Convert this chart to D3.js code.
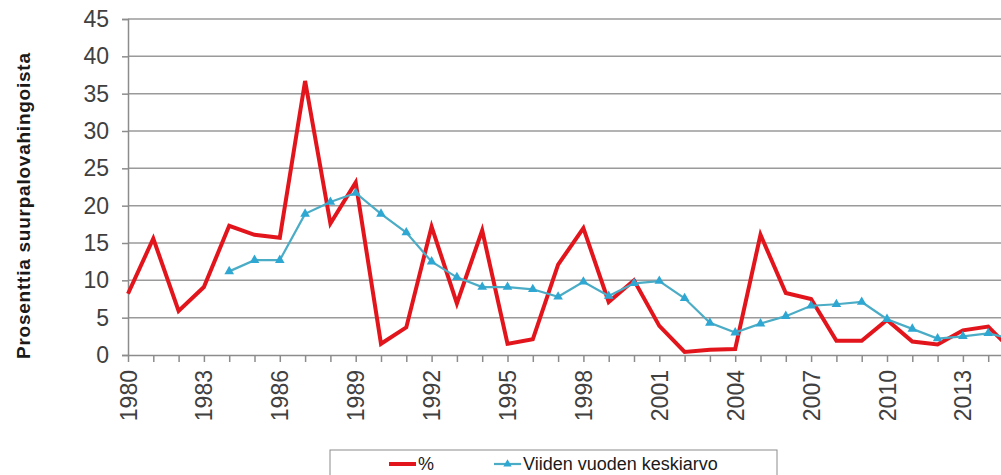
<!DOCTYPE html>
<html>
<head>
<meta charset="utf-8">
<script src="https://cdnjs.cloudflare.com/ajax/libs/d3/7.8.5/d3.min.js"></script>
<style>
  body { margin: 0; background: #fff; }
  svg { display: block; font-family: "Liberation Sans", Arial, sans-serif; }
</style>
</head>
<body>
<script>
// vuodet
var years = d3.range(1980, 2016);
// suurpalovahinkojen osuus, %
var percent = [8.2, 15.6, 5.9, 9.1, 17.3, 16.1, 15.7, 36.7, 17.6, 23.1,
               1.5, 3.7, 17.2, 6.9, 16.7, 1.5, 2.1, 12.1, 17.0, 7.1,
               10.0, 3.9, 0.4, 0.7, 0.8, 16.1, 8.3, 7.5, 1.9, 1.9,
               4.7, 1.8, 1.4, 3.3, 3.8, 0.4];
// viiden vuoden keskiarvo (alkaa 1984)
var avg = [null, null, null, null, 11.2, 12.7, 12.7, 18.9, 20.5, 21.7,
           18.9, 16.4, 12.5, 10.4, 9.1, 9.1, 8.8, 7.8, 9.8, 7.9,
           9.6, 9.9, 7.6, 4.3, 3.0, 4.2, 5.2, 6.6, 6.8, 7.1,
           4.8, 3.5, 2.2, 2.5, 2.9, 2.1];
var yTicks = [0, 5, 10, 15, 20, 25, 30, 35, 40, 45];
var xLabels = d3.range(1980, 2016, 3);
var seriesNames = ["%", "Viiden vuoden keskiarvo"];

var W = 1001, H = 475;
var svg = d3.select("body").append("svg").attr("width", W).attr("height", H);

var x = d3.scaleLinear().domain([1980, 2015]).range([128, 128 + 35 * 25.3]);
var y = d3.scaleLinear().domain([0, 45]).range([355, 19]);

// gridlines
svg.append("g").selectAll("line").data(yTicks.slice(1)).enter().append("line")
    .attr("x1", 128).attr("x2", W)
    .attr("y1", function(d) { return y(d); }).attr("y2", function(d) { return y(d); })
    .attr("stroke", "#9a9a9a").attr("stroke-width", 1.5);

// y axis
var yAxis = svg.append("g").attr("transform", "translate(128,0)")
    .call(d3.axisLeft(y).tickValues(yTicks).tickSize(6).tickPadding(13));
yAxis.select(".domain").attr("stroke", "#8c8c8c").attr("stroke-width", 1.5);
yAxis.selectAll(".tick line").attr("stroke", "#8c8c8c").attr("stroke-width", 1.5);
yAxis.selectAll("text").attr("font-size", 23).attr("fill", "#404040")
    .attr("font-family", "Liberation Sans, Arial, sans-serif");

// x axis
var xAxis = svg.append("g").attr("transform", "translate(0,355)")
    .call(d3.axisBottom(x).tickValues(years).tickSize(7).tickSizeOuter(0)
        .tickFormat(function(d) { return xLabels.indexOf(d) >= 0 ? d : ""; }));
xAxis.select(".domain").attr("stroke", "#8c8c8c").attr("stroke-width", 1.5);
xAxis.selectAll(".tick line").attr("stroke", "#8c8c8c").attr("stroke-width", 1.5);
xAxis.selectAll("text").attr("font-size", 23).attr("fill", "#404040")
    .attr("font-family", "Liberation Sans, Arial, sans-serif")
    .attr("transform", "rotate(-90)")
    .attr("text-anchor", "end").attr("dy", "0.35em")
    .attr("x", -15).attr("y", 0);

// y axis title
svg.append("text")
    .attr("transform", "translate(30,206) rotate(-90)")
    .attr("text-anchor", "middle")
    .attr("font-size", 19).attr("font-weight", "bold").attr("fill", "#1a1a1a")
    .attr("textLength", 306).attr("lengthAdjust", "spacing")
    .text("Prosenttia  suurpalovahingoista");

var redLine = d3.line()
    .x(function(d, i) { return x(years[i]); })
    .y(function(d) { return y(d); });

svg.append("path").datum(percent)
    .attr("d", redLine)
    .attr("fill", "none").attr("stroke", "#e3151c").attr("stroke-width", 4)
    .attr("stroke-linejoin", "miter");

var avgPts = years.map(function(yr, i) { return [yr, avg[i]]; })
    .filter(function(p) { return p[1] != null; });

svg.append("path").datum(avgPts)
    .attr("d", d3.line().x(function(p) { return x(p[0]); }).y(function(p) { return y(p[1]); }))
    .attr("fill", "none").attr("stroke", "#4bacc6").attr("stroke-width", 2.2);

var tri = d3.symbol().type(d3.symbolTriangle).size(40);
svg.append("g").selectAll("path").data(avgPts).enter().append("path")
    .attr("d", tri)
    .attr("transform", function(p) { return "translate(" + x(p[0]) + "," + y(p[1]) + ")"; })
    .attr("fill", "#2ea7d3");

// legend
var lg = svg.append("g");
lg.append("rect").attr("x", 330).attr("y", 450).attr("width", 447).attr("height", 40)
    .attr("fill", "#fff").attr("stroke", "#8c8c8c").attr("stroke-width", 1);
lg.append("line").attr("x1", 389).attr("x2", 416).attr("y1", 464).attr("y2", 464)
    .attr("stroke", "#e3151c").attr("stroke-width", 4);
lg.append("text").attr("x", 418).attr("y", 470).attr("font-size", 18).attr("fill", "#1a1a1a")
    .text(seriesNames[0]);
lg.append("line").attr("x1", 494).attr("x2", 521).attr("y1", 464).attr("y2", 464)
    .attr("stroke", "#4bacc6").attr("stroke-width", 2.2);
lg.append("path").attr("d", d3.symbol().type(d3.symbolTriangle).size(30))
    .attr("transform", "translate(507.5,464)").attr("fill", "#2ea7d3");
lg.append("text").attr("x", 523).attr("y", 470).attr("font-size", 18).attr("fill", "#1a1a1a")
    .text(seriesNames[1]);
</script>
</body>
</html>
